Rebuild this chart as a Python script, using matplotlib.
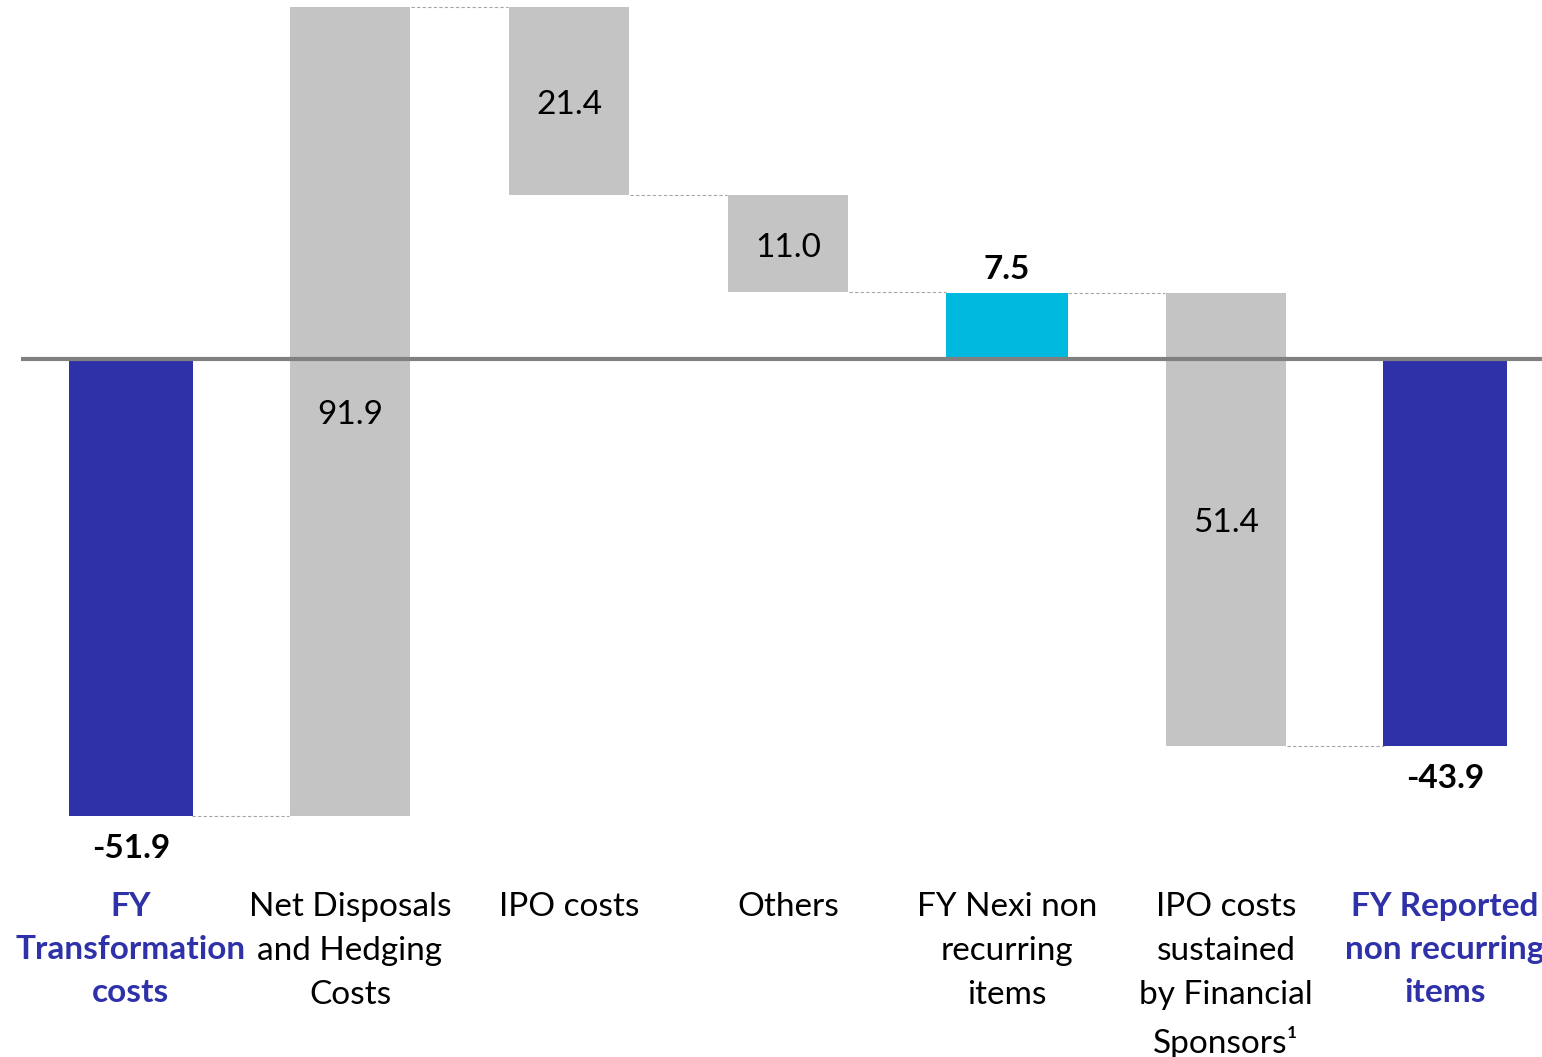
import matplotlib.pyplot as plt

plt.rcParams['font.family'] = ['Lato', 'DejaVu Sans']

categories = ["FY\nTransformation\ncosts", "Net Disposals\nand Hedging\nCosts", "IPO costs",
              "Others", "FY Nexi non\nrecurring\nitems", "IPO costs\nsustained\nby Financial\nSponsors\u00b9",
              "FY Reported\nnon recurring\nitems"]
values = [-51.9, 91.9, -21.4, -11.0, 7.5, -51.4, -43.9]
kinds = ["total", "delta", "delta", "delta", "subtotal", "delta", "total"]

BLUE = "#2E31A8"
CYAN = "#00B9DE"
GREY = "#C4C4C4"

fig = plt.figure(figsize=(15.42, 10.57), dpi=100)
ax = fig.add_axes([0, 0, 1, 1])
ax.set_xlim(-0.598, 6.443)
ax.set_ylim(-79.2, 40.75)
ax.axis("off")

running = 0.0
levels = []  # running level after each bar
for i, (v, k) in enumerate(zip(values, kinds)):
    if k == "total":
        bottom, top = min(0, v), max(0, v)
        running = v
        color, width = BLUE, 0.565
    elif k == "subtotal":
        bottom, top = min(0, v), max(0, v)
        running = v
        color, width = CYAN, 0.56
    else:
        start = running
        running = start + v
        bottom, top = min(start, running), max(start, running)
        color, width = GREY, 0.545
    levels.append(running)
    ax.bar(i, top - bottom, bottom=bottom, width=width, color=color, zorder=2)

    if k == "delta":
        ax.text(i, (top + bottom) / 2 - 0.45, f"{abs(v):.1f}", ha="center", va="center",
                fontsize=24, color="black", zorder=4)
    elif v >= 0:
        ax.text(i, top + 1.0, f"{v:.1f}", ha="center", va="bottom",
                fontsize=24, fontweight="bold", color="black", zorder=4)
    else:
        ax.text(i, bottom - 2.0, f"{v:.1f}", ha="center", va="top",
                fontsize=24, fontweight="bold", color="black", zorder=4)

    tc = BLUE if k == "total" else "black"
    tw = "bold" if k == "total" else "normal"
    ax.text(i, -60.5, categories[i], ha="center", va="top", fontsize=24,
            color=tc, fontweight=tw, linespacing=1.58, zorder=4)

# connectors
for i in range(len(values) - 1):
    lvl = levels[i]
    ax.plot([i + 0.28, i + 0.72], [lvl, lvl], color="#A6A6A6", lw=0.8,
            ls=(0, (3, 2)), zorder=1)

ax.plot([-0.5, 6.45], [0, 0], color="#808080", lw=3, zorder=3, solid_capstyle="butt")

fig.savefig("out.png", dpi=100)
